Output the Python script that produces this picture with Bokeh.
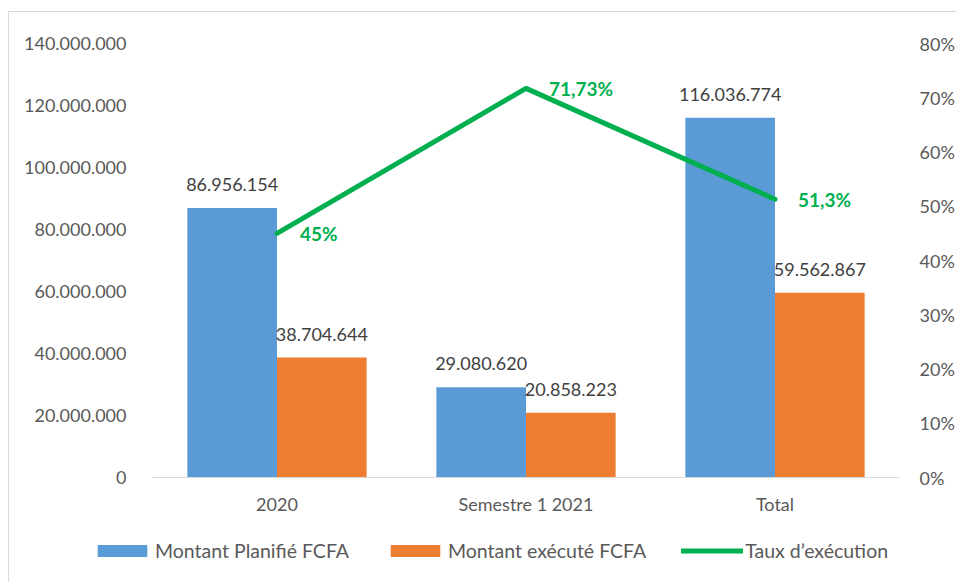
from bokeh.plotting import figure
from bokeh.models import (ColumnDataSource, Range1d, LinearAxis, FixedTicker,
                          Legend, LegendItem, FactorRange)
from bokeh.transform import dodge
from bokeh.core.properties import value
from bokeh.embed import file_html
from bokeh.resources import INLINE

# ---- data ----
categories = ["2020", "Semestre 1 2021", "Total"]
planned = [86956154, 29080620, 116036774]
executed = [38704644, 20858223, 59562867]
rate = [0.45, 0.7173, 0.513]
rate_labels = ["45%", "71,73%", "51,3%"]
series_names = ["Montant Planifié FCFA", "Montant exécuté FCFA", "Taux d’exécution"]
left_ticks = [0, 20000000, 40000000, 60000000, 80000000, 100000000, 120000000, 140000000]
left_tick_labels = ["0", "20.000.000", "40.000.000", "60.000.000", "80.000.000",
                    "100.000.000", "120.000.000", "140.000.000"]
right_ticks = [0, 0.1, 0.2, 0.3, 0.4, 0.5, 0.6, 0.7, 0.8]
right_tick_labels = ["0%", "10%", "20%", "30%", "40%", "50%", "60%", "70%", "80%"]


def fmt(v):
    return f"{v:,}".replace(",", ".")


src = ColumnDataSource(dict(
    cat=categories, planned=planned, executed=executed, rate=rate,
    planned_lbl=[fmt(v) for v in planned],
    executed_lbl=[fmt(v) for v in executed],
    rate_lbl=rate_labels,
))

FONT = "Lato"
BLUE = "#5B9BD5"
ORANGE = "#ED7D31"
GREEN = "#00B050"
TICK = "#595959"
LBL = "#404040"
EDGE = "1px solid #D9D9D9"

W, H = 948, 518
p = figure(x_range=FactorRange(*categories), y_range=Range1d(0, 140000000),
           width=W, height=H, output_backend="svg", toolbar_location=None,
           min_border_left=143, min_border_right=55, min_border_top=31,
           min_border_bottom=53)
p.margin = (11, 0, 0, 8)
p.styles = {"border-top": EDGE, "border-left": EDGE}
p.outline_line_color = None
p.xgrid.visible = False
p.ygrid.visible = False
p.x_range.range_padding = 0
p.extra_y_ranges = {"pct": Range1d(0, 0.8)}

bw = 0.36
p.vbar(x=dodge("cat", -bw / 2, range=p.x_range), top="planned", width=bw,
       source=src, color=BLUE, line_color=None)
p.vbar(x=dodge("cat", bw / 2, range=p.x_range), top="executed", width=bw,
       source=src, color=ORANGE, line_color=None)
p.line(x="cat", y="rate", source=src, y_range_name="pct",
       line_width=5, line_color=GREEN, line_join="round", line_cap="round")

# value labels
p.text(x=dodge("cat", -bw / 2, range=p.x_range), y="planned", text="planned_lbl",
       source=src, text_align="center", text_baseline="bottom", y_offset=-17,
       text_font=value(FONT), text_font_size="18px", text_color=LBL)
p.text(x=dodge("cat", bw / 2, range=p.x_range), y="executed", text="executed_lbl",
       source=src, text_align="center", text_baseline="bottom", y_offset=-17,
       text_font=value(FONT), text_font_size="18px", text_color=LBL)
p.text(x="cat", y="rate", text="rate_lbl", source=src, y_range_name="pct",
       text_align="left", text_baseline="middle", x_offset=23,
       text_font=value(FONT), text_font_size="19px", text_font_style="bold",
       text_color=GREEN)

# axes
xa = p.xaxis[0]
xa.axis_line_color = "#D9D9D9"
xa.major_tick_line_color = None
xa.minor_tick_line_color = None
xa.major_label_text_font = FONT
xa.major_label_text_font_size = "18px"
xa.major_label_text_color = TICK
xa.major_label_standoff = 9

ya = p.yaxis[0]
ya.ticker = FixedTicker(ticks=left_ticks)
ya.major_label_overrides = {t: l for t, l in zip(left_ticks, left_tick_labels)}
ya.axis_line_color = None
ya.major_tick_line_color = None
ya.minor_tick_line_color = None
ya.major_label_text_font = FONT
ya.major_label_text_font_size = "18px"
ya.major_label_text_color = TICK
ya.major_label_standoff = 20

ra = LinearAxis(y_range_name="pct", ticker=FixedTicker(ticks=right_ticks))
ra.major_label_overrides = {t: l for t, l in zip(right_ticks, right_tick_labels)}
ra.axis_line_color = None
ra.major_tick_line_color = None
ra.minor_tick_line_color = None
ra.major_label_text_font = FONT
ra.major_label_text_font_size = "18px"
ra.major_label_text_color = TICK
ra.major_label_standoff = 14
p.add_layout(ra, "right")

# ---- legend strip (separate root below the chart) ----
H2 = 53
pl = figure(width=W, height=H2, output_backend="svg", toolbar_location=None,
            x_range=Range1d(0, 1), y_range=Range1d(0, 1),
            x_axis_location=None, y_axis_location=None,
            min_border=0, min_border_left=0, min_border_right=0,
            min_border_top=0, min_border_bottom=0)
pl.margin = (0, 0, 0, 8)
pl.styles = {"border-left": EDGE}
pl.outline_line_color = None
pl.grid.visible = False
g1 = pl.vbar(x="rate", top="rate", width=0.1, source=src, color=BLUE,
             line_color=None, visible=False)
g2 = pl.vbar(x="rate", top="rate", width=0.1, source=src, color=ORANGE,
             line_color=None, visible=False)
g3 = pl.line(x="rate", y="rate", source=src, line_width=5, line_color=GREEN,
             line_cap="round", visible=False)

legend = Legend(items=[
    LegendItem(label=series_names[0], renderers=[g1]),
    LegendItem(label=series_names[1], renderers=[g2]),
    LegendItem(label=series_names[2], renderers=[g3]),
], orientation="horizontal", location=(82, 20))
legend.glyph_width = 62
legend.glyph_height = 15
legend.label_height = 20
legend.label_standoff = 2
legend.spacing = 35
legend.padding = 0
legend.margin = 0
legend.border_line_color = None
legend.background_fill_alpha = 0
legend.inactive_fill_alpha = 0
legend.label_text_font = FONT
legend.label_text_font_size = "19.5px"
legend.label_text_color = TICK
pl.add_layout(legend, "center")

open("out.html", "w").write(file_html([p, pl], INLINE))
